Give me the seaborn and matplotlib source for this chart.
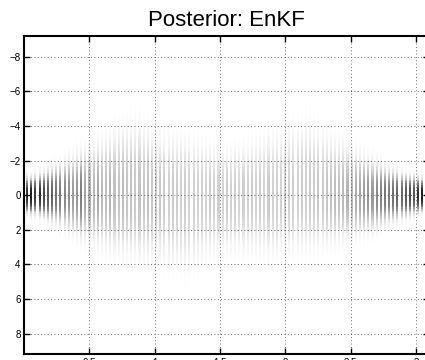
import numpy as np
import matplotlib
matplotlib.use("Agg")
import matplotlib.pyplot as plt
import seaborn as sns

# ---- chart text / ticks ----
title = "Posterior: EnKF"
x_ticks = [0.5, 1.0, 1.5, 2.0, 2.5, 3.0]
x_tick_labels = ["0.5", "1", "1.5", "2", "2.5", "3"]
y_ticks = [-8, -6, -4, -2, 0, 2, 4, 6, 8]
y_tick_labels = ["\u22128", "\u22126", "\u22124", "\u22122", "0", "2", "4", "6", "8"]

# ---- data (one value per time step / stripe) ----
time_step = 0.03185
x_max = 3.1
# extent of the posterior spread above (negative state) and below zero
upper_extent = [1.3, 1.3, 1.4, 1.5, 1.6, 1.8, 1.9, 2.1, 2.2, 2.4,
                2.6, 2.7, 2.9, 3.0, 3.2, 3.3, 3.4, 3.6, 3.7, 3.9,
                4.0, 4.2, 4.4, 4.6, 4.6, 4.7, 4.8, 4.7, 4.6, 4.5,
                4.2, 4.1, 4.0, 4.0, 3.9, 3.9, 3.8, 3.8, 3.7, 3.7,
                3.6, 3.5, 3.5, 3.4, 3.3, 3.2, 3.1, 3.0, 3.0, 3.0,
                3.1, 3.1, 3.2, 3.3, 3.5, 3.6, 3.7, 3.8, 3.9, 4.0,
                4.1, 4.2, 4.3, 4.4, 4.5, 4.6, 4.7, 4.8, 4.7, 4.6,
                4.4, 4.2, 4.0, 3.9, 3.7, 3.6, 3.5, 3.3, 3.2, 3.0,
                2.9, 2.7, 2.6, 2.4, 2.3, 2.2, 2.0, 1.9, 1.8, 1.7,
                1.6, 1.5, 1.4, 1.4, 1.3, 1.2]
lower_extent = [1.3, 1.4, 1.4, 1.5, 1.6, 1.8, 1.9, 2.0, 2.2, 2.3,
                2.5, 2.7, 2.8, 3.0, 3.1, 3.2, 3.3, 3.4, 3.6, 3.7,
                3.8, 3.8, 3.9, 4.0, 4.0, 4.1, 4.1, 4.2, 4.2, 4.3,
                4.3, 4.3, 4.3, 4.4, 4.5, 4.6, 4.7, 4.8, 4.9, 4.8,
                4.7, 4.5, 4.3, 4.1, 4.0, 3.9, 3.9, 3.8, 3.8, 3.8,
                3.8, 3.8, 3.8, 3.8, 3.8, 3.9, 3.9, 3.9, 3.9, 3.9,
                3.9, 3.8, 3.8, 3.8, 3.8, 3.8, 3.7, 3.7, 3.6, 3.6,
                3.5, 3.4, 3.4, 3.3, 3.3, 3.2, 3.1, 3.0, 3.0, 2.9,
                2.8, 2.7, 2.6, 2.5, 2.4, 2.2, 2.1, 2.0, 1.9, 1.8,
                1.7, 1.6, 1.5, 1.4, 1.3, 1.2]
peak_density = [0.85, 0.90, 0.82, 0.85, 0.78, 0.72, 0.68, 0.62, 0.60, 0.55,
                0.52, 0.48, 0.50, 0.58, 0.45, 0.42, 0.40, 0.44, 0.38, 0.37,
                0.40, 0.36, 0.35, 0.38, 0.34, 0.36, 0.33, 0.35, 0.33, 0.36,
                0.33, 0.31, 0.33, 0.31, 0.30, 0.32, 0.30, 0.29, 0.31, 0.29,
                0.30, 0.28, 0.30, 0.28, 0.31, 0.29, 0.30, 0.28, 0.31, 0.29,
                0.30, 0.28, 0.30, 0.29, 0.31, 0.29, 0.30, 0.28, 0.31, 0.29,
                0.30, 0.29, 0.31, 0.29, 0.30, 0.29, 0.31, 0.30, 0.32, 0.31,
                0.33, 0.32, 0.34, 0.35, 0.37, 0.36, 0.39, 0.41, 0.40, 0.43,
                0.45, 0.48, 0.50, 0.49, 0.54, 0.57, 0.60, 0.58, 0.64, 0.68,
                0.66, 0.72, 0.77, 0.74, 0.84, 0.90]

# ---- style ----
sns.set_style("white")
plt.rcParams["font.family"] = ["Liberation Sans", "DejaVu Sans"]
plt.rcParams["text.color"] = "black"

# state grid
y_lo, y_hi, dy = -9.2, 9.2, 0.1
y_centers = np.arange(y_lo + dy / 2, y_hi, dy)

n = len(peak_density)
density = np.zeros((len(y_centers), 2 * n))
for i in range(n):
    ext = np.where(y_centers < 0, upper_extent[i], lower_extent[i])
    s = ext / 1.75
    density[:, 2 * i + 1] = peak_density[i] * np.exp(-0.5 * np.abs(y_centers / s) ** 3)

fig = plt.figure(figsize=(4.25, 3.6), dpi=100)
ax = fig.add_axes([24 / 425, 5.7 / 360, 405 / 425, 318.3 / 360])
sns.heatmap(density, ax=ax, cmap="Greys", vmin=0, vmax=1, cbar=False,
            xticklabels=False, yticklabels=False, rasterized=True)

cols_per_unit = 2 / time_step
ax.set_xlim(0, x_max * cols_per_unit)
ax.set_ylim((y_hi - y_lo) / dy, 0)
ax.set_xticks([t * cols_per_unit for t in x_ticks])
ax.set_xticklabels(x_tick_labels)
ax.set_yticks([(v - y_lo) / dy for v in y_ticks])
ax.set_yticklabels(y_tick_labels, rotation=0)

for sp in ax.spines.values():
    sp.set_visible(True)
    sp.set_linewidth(1.5)
    sp.set_color("black")

ax.set_axisbelow(False)
ax.grid(True, linestyle=(0, (1, 3)), linewidth=0.6, color="#444444")
ax.tick_params(direction="in", length=4, width=1, top=True, right=True,
               bottom=True, left=True, labelsize=7, pad=2.5,
               colors="black", labelcolor="black")
ax.set_title(title, fontsize=16, pad=7, color="black")

fig.savefig("out.png", dpi=100)
